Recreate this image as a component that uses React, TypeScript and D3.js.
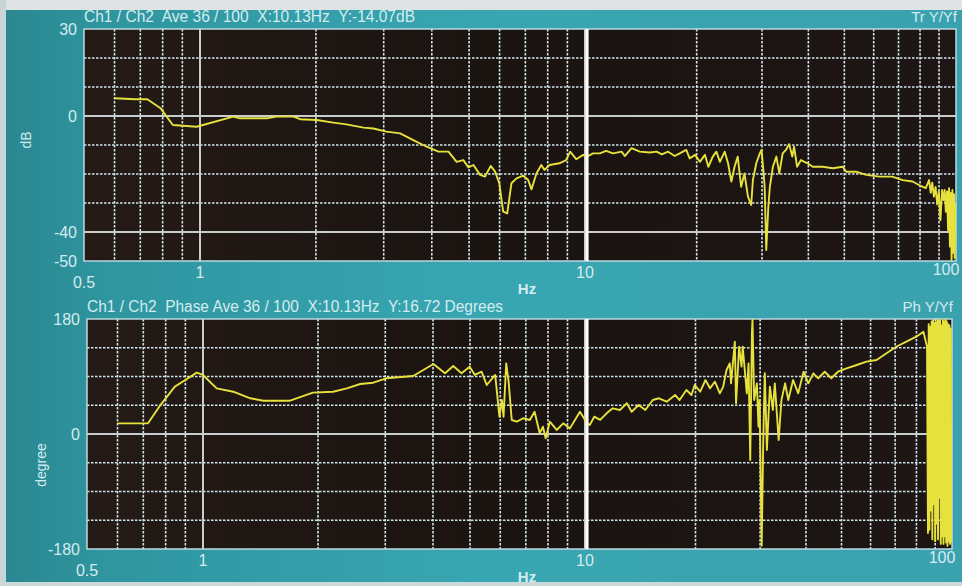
import * as d3 from 'd3';
import React from 'react';

// frequency axis (Hz)
const freqDomain = [0.5, 1, 10, 100];
const minorFreqs = [0.6, 0.7, 0.8, 0.9, 2, 3, 4, 5, 6, 7, 8, 9, 20, 30, 40, 50, 60, 70, 80, 90];
const decadeFreqs = [1, 10];
const freqLabels = [0.5, 1, 10, 100];
const cursorFreq = 10.13;

// magnitude axis (dB)
const magDomain = [-50, 30];
const magDashed = [20, 10, -10, -20, -30];
const magSolid = [0, -40];
const magLabels = [30, 0, -40, -50];

// phase axis (degree)
const phaseDomain = [-180, 180];
const phaseDashed = [135, 90, 45, -45, -90, -135];
const phaseSolid = [0];
const phaseLabels = [180, 0, -180];

// measured traces [Hz, value]
const magnitudeTrace: [number, number][] = [
  [0.6, 6.1], [0.68, 5.8], [0.73, 5.8], [0.79, 2.7], [0.85, -3.1], [0.98, -3.7], [1.22, -0.2], [1.27, -0.8],
  [1.49, -0.8], [1.58, -0.2], [1.75, -0.2], [1.82, -1.1], [2.01, -1.4], [2.22, -2.3], [2.4, -2.9], [2.66, -4.0],
  [2.82, -4.3], [3.05, -5.4], [3.31, -6.0], [3.58, -8.3], [3.88, -10.6], [4.16, -12.3], [4.42, -12.3], [4.64, -15.8],
  [4.83, -15.2], [4.98, -17.7], [5.13, -16.9], [5.34, -20.3], [5.5, -20.9], [5.69, -17.2], [5.84, -19.2], [5.99, -23.2],
  [6.13, -33.0], [6.28, -33.6], [6.44, -23.2], [6.64, -21.5], [6.91, -20.6], [7.12, -22.1], [7.26, -25.3], [7.48, -19.8],
  [7.7, -16.9], [7.85, -18.6], [8.09, -16.9], [8.58, -16.3], [8.93, -15.2], [9.15, -12.3], [9.49, -14.9], [9.89, -13.4],
  [10.13, -14.07], [10.5, -12.9], [10.97, -12.9], [11.4, -12.0], [11.9, -12.9], [12.55, -12.3], [12.8, -13.8], [13.35, -11.1],
  [14.05, -12.3], [14.95, -12.6], [15.6, -12.3], [16.1, -13.2], [16.75, -12.3], [17.45, -13.8], [18.0, -12.9], [18.75, -11.7],
  [19.15, -14.6], [19.8, -13.4], [20.4, -15.8], [21.05, -13.4], [21.5, -17.5], [22.1, -14.0], [22.6, -12.3], [23.1, -15.8],
  [23.8, -12.3], [24.3, -16.3], [24.8, -22.6], [25.3, -17.5], [25.8, -14.0], [26.35, -24.4], [26.9, -19.8], [27.5, -27.8],
  [28.05, -30.7], [28.35, -22.1], [28.95, -16.3], [29.6, -12.9], [29.9, -11.7], [30.2, -17.5], [30.5, -24.4], [30.8, -46.2],
  [31.2, -31.3], [31.5, -24.4], [32.1, -17.5], [32.8, -14.0], [33.4, -19.8], [34.1, -12.9], [34.8, -11.7], [35.5, -9.7],
  [36.2, -14.0], [36.6, -10.6], [37.3, -17.5], [38.2, -15.2], [39.8, -16.3], [41.1, -17.5], [43.7, -17.5], [46.6, -18.0],
  [49.5, -17.5], [50.6, -19.2], [53.8, -19.2], [57.3, -20.3], [62.1, -20.9], [67.3, -20.9], [71.8, -22.1], [76.4, -22.6],
  [79.5, -23.8], [82.9, -24.9], [84.6, -22.1], [85.5, -26.5], [86.3, -23.0], [87.2, -27.8], [88.1, -24.5], [89.0, -30.5],
  [89.9, -26.0], [90.8, -35.9], [91.7, -25.5], [92.5, -29.0], [93.2, -25.5], [93.9, -33.0], [94.6, -26.0], [95.2, -39.3],
  [95.8, -24.9], [96.3, -45.0], [96.8, -26.5], [97.3, -49.7], [97.8, -25.5], [98.3, -47.2], [98.8, -27.0], [99.2, -49.0],
  [99.6, -30.0],
];

const phaseTrace: [number, number][] = [
  [0.6, 16.7], [0.72, 16.7], [0.77, 42.8], [0.845, 74.1], [0.906, 85.6], [0.963, 96], [1.0, 92.4], [1.086, 71.5],
  [1.2, 66.2], [1.33, 55.9], [1.44, 52.1], [1.69, 52.1], [1.94, 64.7], [2.19, 66.2], [2.38, 71.5], [2.58, 78.3],
  [2.79, 80.3], [3.02, 87.2], [3.55, 90.8], [4.01, 109.6], [4.3, 95], [4.52, 106.4], [4.75, 95], [4.99, 105.4],
  [5.15, 92.4], [5.36, 97.5], [5.53, 76.7], [5.82, 92.4], [5.97, 27.1], [6.06, 53.2], [6.12, 27.1], [6.22, 110.6],
  [6.31, 81.9], [6.43, 21.9], [6.63, 19.3], [6.89, 24.6], [7.17, 21.9], [7.38, 34.9], [7.61, 1.1], [7.76, 11.4],
  [7.89, -6.7], [8.09, 19.3], [8.43, 6.3], [8.77, 16.7], [9.13, 8.8], [9.7, 34.9], [10.13, 16.72], [10.3, 14.1],
  [10.6, 27.1], [11.0, 22.0], [11.45, 32.4], [11.9, 40.2], [12.45, 37.6], [13.0, 48.1], [13.4, 34.9], [14.0, 45.4],
  [14.6, 37.6], [15.3, 53.2], [15.9, 55.9], [16.7, 50.6], [17.6, 61.1], [18.1, 53.2], [18.9, 68.9], [19.5, 61.1],
  [19.9, 76.7], [20.6, 66.2], [21.3, 84.5], [21.9, 71.5], [22.6, 81.9], [23.3, 63.6], [23.8, 74.1], [24.3, 100.2],
  [24.8, 110.6], [25.0, 79.3], [25.6, 144.5], [25.8, 48.1], [26.3, 136.6], [26.7, 105.4], [26.9, 136.6], [27.6, 63.6],
  [27.9, 110.6], [28.2, -40.7], [28.5, 157.6], [28.6, 179], [28.9, 53.2], [29.4, 79.3], [29.7, 11.4], [29.9, 53.2],
  [30.3, -175], [30.6, -9.3], [30.9, 95], [31.3, -25], [31.9, 74.1], [32.5, 37.6], [32.9, 79.3], [33.7, -9.3],
  [34.3, 53.2], [35.1, 79.3], [35.8, 53.2], [36.9, 84.5], [38.1, 63.6], [39.4, 97.5], [40.6, 79.3], [41.9, 95],
  [43.2, 87.2], [45.0, 97.5], [46.9, 87.2], [48.9, 97.5], [51.6, 102.8], [55.0, 108], [58.5, 113.2], [62.3, 115.8],
  [66.3, 126.3], [70.5, 136.6], [75.1, 144.5], [79.9, 152.3], [83.6, 160.1], [85.5, 136.6], [86.0, -155], [86.4, 172],
  [86.8, -150], [87.2, 168], [87.6, -120], [88.0, 176], [88.4, -165], [88.8, 178], [89.2, -110], [89.6, 174],
  [90.0, -168], [90.4, 175], [90.8, -140], [91.2, 179], [91.6, -165], [92.0, 177], [92.4, -100], [92.8, 178],
  [93.2, -172], [93.6, 170], [94.0, -160], [94.4, 178], [94.8, -172], [95.2, 176], [95.6, -160], [96.0, 179],
  [96.4, -170], [96.8, 176], [97.2, -175], [97.6, 172], [98.0, -168], [98.4, 170], [98.8, -172], [99.2, 165],
  [99.6, -170],
];

const TEXT = '#d4ecef';
const GRID = '#cfe5ec';
const TRACE = '#e6e13c';

type PanelCfg = {
  id: string;
  xRange: number[];
  top: number;
  bottom: number;
  yDomain: number[];
  dashed: number[];
  solid: number[];
  labels: number[];
  trace: [number, number][];
  title: string;
  titleWidth: number;
  tag: string;
  unit: string;
  unitX: number;
  unitY: number;
  freqLabelY: number;
};

const panels: PanelCfg[] = [
  {
    id: 'mag', xRange: [84, 200, 585, 956], top: 29, bottom: 261, yDomain: magDomain,
    dashed: magDashed, solid: magSolid, labels: magLabels, trace: magnitudeTrace,
    title: 'Ch1 / Ch2  Ave 36 / 100  X:10.13Hz  Y:-14.07dB', titleWidth: 331, tag: 'Tr Y/Yf',
    unit: 'dB', unitX: 31, unitY: 140, freqLabelY: 278,
  },
  {
    id: 'ph', xRange: [87, 203, 585, 952], top: 319, bottom: 549, yDomain: phaseDomain,
    dashed: phaseDashed, solid: phaseSolid, labels: phaseLabels, trace: phaseTrace,
    title: 'Ch1 / Ch2  Phase Ave 36 / 100  X:10.13Hz  Y:16.72 Degrees', titleWidth: 416, tag: 'Ph Y/Yf',
    unit: 'degree', unitX: 46, unitY: 465, freqLabelY: 566,
  },
];

const Panel: React.FC<{ cfg: PanelCfg }> = ({ cfg }) => {
  const x = d3.scaleLog().domain(freqDomain).range(cfg.xRange);
  const y = d3.scaleLinear().domain(cfg.yDomain).range([cfg.bottom, cfg.top]);
  const [x0, x1] = [cfg.xRange[0], cfg.xRange[cfg.xRange.length - 1]];
  const line = d3.line<[number, number]>().x(d => x(d[0])).y(d => y(d[1]));
  const font = '"Liberation Sans", Arial, sans-serif';

  return (
    <g fontFamily={font}>
      <defs>
        <clipPath id={`clip-${cfg.id}`}>
          <rect x={x0} y={cfg.top} width={x1 - x0} height={cfg.bottom - cfg.top} />
        </clipPath>
        <linearGradient id={`bg-${cfg.id}`} x1="0" x2="1" y1="0" y2="0">
          <stop offset="0" stopColor="#241a16" />
          <stop offset="0.5" stopColor="#1a1310" />
          <stop offset="1" stopColor="#1d1614" />
        </linearGradient>
      </defs>
      <rect x={x0} y={cfg.top} width={x1 - x0} height={cfg.bottom - cfg.top} fill={`url(#bg-${cfg.id})`} />

      {cfg.dashed.map(v => (
        <line key={`h${v}`} x1={x0} x2={x1} y1={y(v)} y2={y(v)} stroke={GRID} strokeWidth={1.6} strokeDasharray="2.5 1.5" />
      ))}
      {minorFreqs.map(f => (
        <line key={`v${f}`} x1={x(f)} x2={x(f)} y1={cfg.top} y2={cfg.bottom} stroke={GRID} strokeWidth={1.6} strokeDasharray="2.5 1.5" />
      ))}
      {cfg.solid.map(v => (
        <line key={`s${v}`} x1={x0} x2={x1} y1={y(v)} y2={y(v)} stroke="#c9cccc" strokeWidth={2} />
      ))}
      {decadeFreqs.map(f => (
        <line key={`d${f}`} x1={x(f)} x2={x(f)} y1={cfg.top} y2={cfg.bottom} stroke="#c9cccc" strokeWidth={2} />
      ))}
      <rect x={x0} y={cfg.top} width={x1 - x0} height={cfg.bottom - cfg.top} fill="none" stroke="#bcd9df" strokeWidth={1.5} />

      <path d={line(cfg.trace) ?? ''} fill="none" stroke={TRACE} strokeWidth={1.9} strokeLinejoin="round"
        clipPath={`url(#clip-${cfg.id})`} />

      <line x1={x(cursorFreq)} x2={x(cursorFreq)} y1={cfg.top} y2={cfg.bottom} stroke="#ffffff" strokeWidth={3} />

      <text x={x0} y={cfg.top - 7} fill={TEXT} fontSize={16} textLength={cfg.titleWidth} lengthAdjust="spacingAndGlyphs"
        style={{ whiteSpace: 'pre' }}>
        {cfg.title}
      </text>
      <text x={x1 + 1} y={cfg.top - 7} fill={TEXT} fontSize={15} textAnchor="end">{cfg.tag}</text>

      {cfg.labels.map(v => (
        <text key={`l${v}`} x={x0 - 7} y={y(v) + 6} fill={TEXT} fontSize={16} textAnchor="end">{v}</text>
      ))}
      <text transform={`translate(${cfg.unitX},${cfg.unitY}) rotate(-90)`} fill={TEXT} fontSize={14} textAnchor="middle">
        {cfg.unit}
      </text>

      {freqLabels.map(f => (
        <text key={`f${f}`} x={x(f) + (f === 100 ? -10 : 0)} y={cfg.freqLabelY + (f === 0.5 ? 10 : 0) - (f === 100 ? 3 : 0)}
          fill={TEXT} fontSize={16} textAnchor="middle">{f}</text>
      ))}
      <text x={527} y={cfg.freqLabelY + 16} fill={TEXT} fontSize={15} textAnchor="middle" fontWeight="bold">Hz</text>
    </g>
  );
};

export default function App() {
  return (
    <svg width={962} height={586} style={{ position: 'absolute', left: 0, top: 0 }}>
      <defs>
        <linearGradient id="teal" x1="0" x2="1" y1="0" y2="0">
          <stop offset="0" stopColor="#2a8790" />
          <stop offset="0.12" stopColor="#2f96a0" />
          <stop offset="0.5" stopColor="#38a6b2" />
          <stop offset="1" stopColor="#3aa2ae" />
        </linearGradient>
      </defs>
      <rect x={0} y={0} width={962} height={586} fill="url(#teal)" />
      <rect x={0} y={0} width={962} height={10} fill="#dfe3e4" />
      <rect x={0} y={0} width={6} height={586} fill="#c9d4d6" />
      <rect x={0} y={582} width={962} height={4} fill="#cdd8da" />
      {panels.map(p => <Panel key={p.id} cfg={p} />)}
    </svg>
  );
}
